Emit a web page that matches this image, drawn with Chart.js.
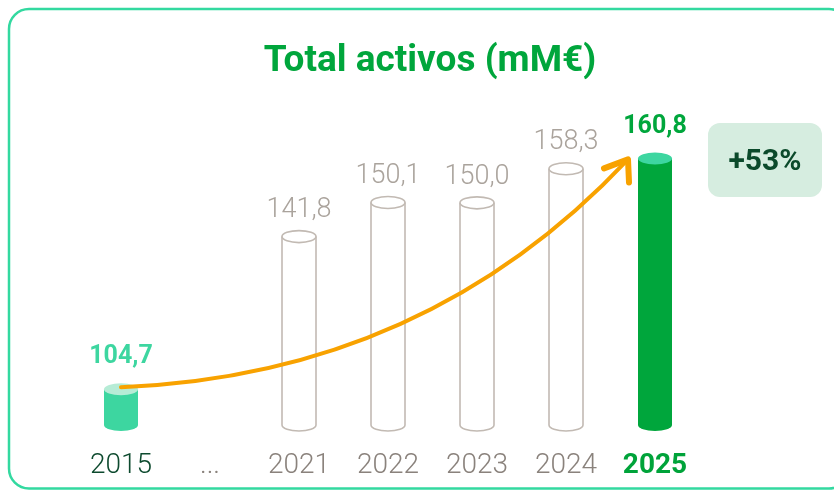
<!DOCTYPE html>
<html>
<head>
<meta charset="utf-8">
<script src="https://cdn.jsdelivr.net/npm/chart.js@4"></script>
<style>
  html, body { margin: 0; padding: 0; background: #fff; }
  #wrap { width: 834px; height: 490px; }
</style>
</head>
<body>
<div id="wrap"><canvas id="activos-chart" width="834" height="490"></canvas></div>
<script>
// data
const years = ['2015', '...', '2021', '2022', '2023', '2024', '2025'];
const totalActivos = [104.7, null, 141.8, 150.1, 150.0, 158.3, 160.8];
const titleText = 'Total activos (mM€)';
const growthText = '+53%';

// value axis is cut, bars start at this value
const yMin = 96;
const yMax = 175;

// colours per bar: 'fill' = solid cylinder, 'line' = outline cylinder
const barKind = ['fill', null, 'line', 'line', 'line', 'line', 'fill'];
const bodyColors = ['#3dd6a0', null, '#fff', '#fff', '#fff', '#fff', '#00a63c'];
const capColors = ['#b6ecd6', null, '#fff', '#fff', '#fff', '#fff', '#3dd6a0'];
const labelColors = ['#3dd6a0', null, '#aaa39c', '#aaa39c', '#aaa39c', '#aaa39c', '#00a63c'];
const tickColors = ['#0d4a2e', '#8a827c', '#8a827c', '#8a827c', '#8a827c', '#8a827c', '#00a33a'];

const fmt = v => v.toFixed(1).replace('.', ',');

// frame round the whole card and the title
const framePlugin = {
    id: 'frame',
    beforeDraw(chart) {
        const ctx = chart.ctx;
        ctx.save();
        ctx.strokeStyle = '#33d9a0';
        ctx.lineWidth = 2.5;
        ctx.beginPath();
        ctx.roundRect(9, 9, 840, 479.5, 20);
        ctx.stroke();
        ctx.fillStyle = '#00a63c';
        ctx.font = 'bold 37px Roboto';
        ctx.textAlign = 'center';
        ctx.textBaseline = 'middle';
        ctx.fillText(titleText, 430, 62);
        ctx.restore();
    }
};

// draw the bars as cylinders, the value labels, arrow and growth box
const cylinderPlugin = {
    id: 'cylinders',
    afterDatasetsDraw(chart) {
        const ctx = chart.ctx;
        const meta = chart.getDatasetMeta(0);
        const ry = 6;
        ctx.save();
        meta.data.forEach((bar, i) => {
            if (totalActivos[i] == null) return;
            const p = bar.getProps(['x', 'y', 'base', 'width'], true);
            const rx = p.width / 2;
            if (barKind[i] === 'fill') {
                ctx.fillStyle = bodyColors[i];
                ctx.beginPath();
                ctx.moveTo(p.x - rx, p.y);
                ctx.lineTo(p.x - rx, p.base);
                ctx.ellipse(p.x, p.base, rx, ry, 0, Math.PI, 0, true);
                ctx.lineTo(p.x + rx, p.y);
                ctx.closePath();
                ctx.fill();
                ctx.fillStyle = capColors[i];
                ctx.beginPath();
                ctx.ellipse(p.x, p.y, rx, ry, 0, 0, Math.PI * 2);
                ctx.fill();
            } else {
                ctx.strokeStyle = '#c2bab3';
                ctx.lineWidth = 1.6;
                ctx.beginPath();
                ctx.moveTo(p.x - rx, p.y);
                ctx.lineTo(p.x - rx, p.base);
                ctx.ellipse(p.x, p.base, rx, ry, 0, Math.PI, 0, true);
                ctx.lineTo(p.x + rx, p.y);
                ctx.stroke();
                ctx.beginPath();
                ctx.ellipse(p.x, p.y, rx, ry, 0, 0, Math.PI * 2);
                ctx.stroke();
            }
            // value label
            const bold = barKind[i] === 'fill';
            ctx.fillStyle = labelColors[i];
            ctx.font = (bold ? 'bold 25px' : '300 27px') + ' Roboto';
            ctx.textAlign = 'center';
            ctx.textBaseline = 'middle';
            ctx.fillText(fmt(totalActivos[i]), p.x, p.y - (bold ? 32 : 26));
        });

        // growth arrow from first to last bar
        const first = meta.data[0].getProps(['x', 'y'], true);
        const last = meta.data[meta.data.length - 1].getProps(['x', 'y'], true);
        const sx = first.x, sy = first.y - 2;
        const ex = last.x - 27, ey = last.y + 1;
        const cx = sx + (ex - sx) * 0.6, cy = sy - 12;
        ctx.strokeStyle = '#f8a200';
        ctx.lineWidth = 4;
        ctx.lineCap = 'round';
        ctx.lineJoin = 'round';
        ctx.beginPath();
        ctx.moveTo(sx, sy);
        ctx.quadraticCurveTo(cx, cy, ex, ey);
        ctx.stroke();
        ctx.lineWidth = 6;
        ctx.beginPath();
        ctx.moveTo(ex - 24, ey + 9);
        ctx.lineTo(ex, ey);
        ctx.lineTo(ex + 1, ey + 23);
        ctx.stroke();

        // growth box
        const bx = last.x + 53, by = 123;
        ctx.fillStyle = '#d6ede0';
        ctx.beginPath();
        ctx.roundRect(bx, by, 114, 74, 12);
        ctx.fill();
        ctx.fillStyle = '#0b4a2b';
        ctx.font = 'bold 30px Roboto';
        ctx.textAlign = 'center';
        ctx.textBaseline = 'middle';
        ctx.fillText(growthText, bx + 57, by + 39);
        ctx.restore();
    }
};

const data = {
    labels: years,
    datasets: [{
        data: totalActivos,
        base: yMin,
        backgroundColor: 'rgba(0,0,0,0)',
        borderWidth: 0,
        barThickness: 34
    }]
};

const config = {
    type: 'bar',
    data: data,
    options: {
        responsive: false,
        animation: false,
        layout: {
            padding: { left: 76.5, right: 134.5, top: 100, bottom: 10 }
        },
        plugins: {
            legend: { display: false },
            tooltip: { enabled: false },
            title: { display: false }
        },
        scales: {
            y: {
                display: false,
                beginAtZero: false,
                min: yMin,
                max: yMax
            },
            x: {
                grid: { display: false, drawTicks: false },
                border: { display: false },
                afterFit: axis => { axis.height = 55; },
                ticks: {
                    padding: 24,
                    color: ctx => tickColors[ctx.index],
                    font: ctx => {
                        if (ctx.index === 6) return { family: 'Roboto', size: 28, weight: 'bold' };
                        return { family: 'Roboto', size: 28, weight: '300' };
                    }
                }
            }
        }
    },
    plugins: [framePlugin, cylinderPlugin]
};

const context = document.getElementById('activos-chart').getContext('2d');
const myChart = new Chart(context, config);
</script>
</body>
</html>
